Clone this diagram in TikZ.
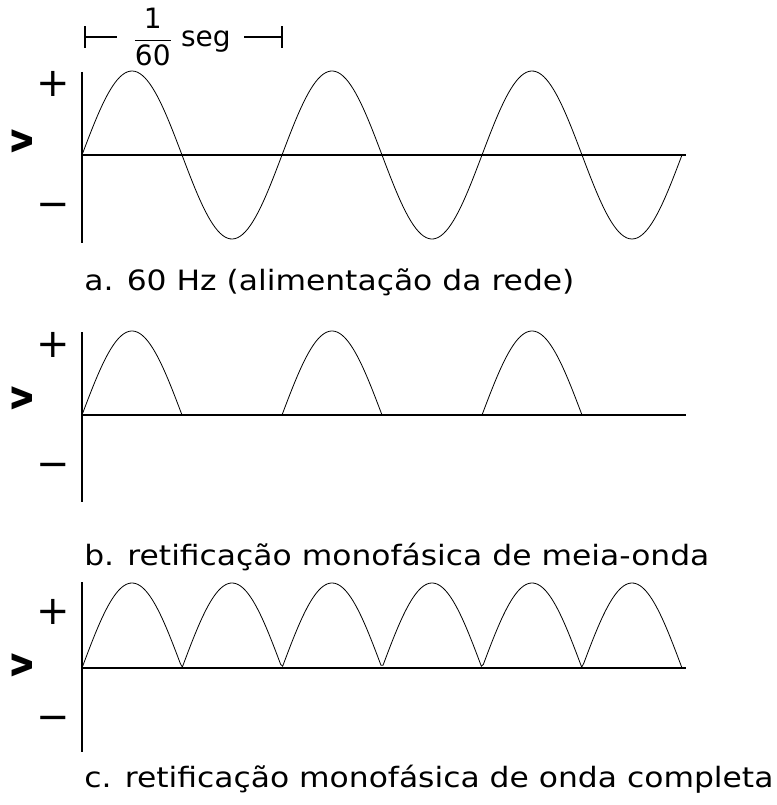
\documentclass[tikz,border=0pt]{standalone}
\usepackage{fontspec}
\setmainfont{DejaVu Sans}
\usetikzlibrary{arrows.meta}
\begin{document}
\begin{tikzpicture}[x=0.75pt,y=-0.75pt,
  axis/.style={line width=2.2pt},
  wave/.style={line width=0.6pt},
  sign/.style={font=\fontsize{30}{30}\selectfont,inner sep=0pt},
  vlbl/.style={font=\fontsize{28}{28}\selectfont\bfseries,rotate=90,inner sep=0pt},
  captxt/.style={font=\fontsize{21}{24}\selectfont,anchor=base west,inner sep=0pt,xscale=1.12}]
\useasboundingbox (0,0) rectangle (776,805);
% periodo
\node[font=\fontsize{21}{24}\selectfont,anchor=base,inner sep=0pt] (per) at (182,47) {$\displaystyle\frac{\mbox{1}}{\mbox{60}}$ seg};
\coordinate (pl) at (84,37);
\coordinate (pr) at (283,37);
\draw[{Bar[width=16pt,line width=1.6pt]}-,line width=0.9pt] (pl) -- ([xshift=-12pt]per.west|-pl);
\draw[-{Bar[width=16pt,line width=1.6pt]},line width=0.9pt] ([xshift=10pt]per.east|-pr) -- (pr);
% a. 60 Hz
\coordinate (ta) at (82,72);
\coordinate (ba) at (82,243);
\coordinate (oa) at (82,155);
\coordinate (ea) at (686,155);
\draw[axis] (ta) -- (ba);
\draw[axis] (oa) -- (ea);
\draw[wave] plot[domain=0:600,samples=240] ({82+\x},{155-84*sin(1.8*\x)});
\node[sign] (pa) at (53,84) {+};
\node[vlbl] (va) at (22,141) {v};
\node[sign] (ma) at (53,210) {−};
\node[captxt] (la) at (84,290) {a. 60 Hz (alimentação da rede)};
% b. meia-onda
\coordinate (tb) at (82,332);
\coordinate (bb) at (82,502);
\coordinate (ob) at (82,415);
\coordinate (eb) at (686,415);
\draw[axis] (tb) -- (bb);
\draw[axis] (ob) -- (eb);
\foreach \k in {0,1,2}
  \draw[wave] plot[domain=0:100,samples=60] ({82+200*\k+\x},{415-84*sin(1.8*\x)});
\node[sign] (pb) at (53,345) {+};
\node[vlbl] (vb) at (22,398) {v};
\node[sign] (mb) at (53,470) {−};
\node[captxt] (lb) at (84,565) {b. retificação monofásica de meia-onda};
% c. onda completa
\coordinate (tc) at (82,582);
\coordinate (bc) at (82,752);
\coordinate (oc) at (82,668);
\coordinate (ec) at (686,668);
\draw[axis] (tc) -- (bc);
\draw[axis] (oc) -- (ec);
\draw[wave] plot[domain=0:600,samples=300] ({82+\x},{668-85*abs(sin(1.8*\x))});
\node[sign] (pc) at (53,612) {+};
\node[vlbl] (vc) at (22,665) {v};
\node[sign] (mc) at (53,723) {−};
\node[captxt] (lc) at (84,787) {c. retificação monofásica de onda completa};
\end{tikzpicture}
\end{document}
